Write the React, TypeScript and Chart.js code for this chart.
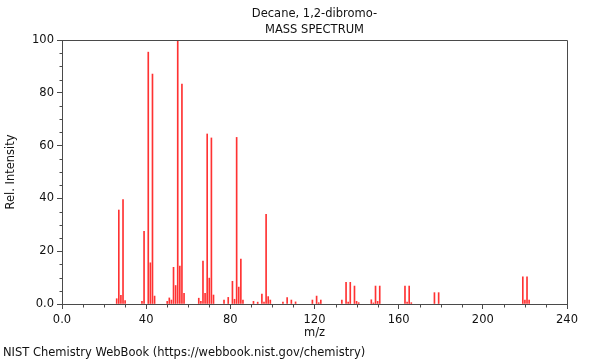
import { useEffect, useRef } from 'react';
import { Chart, registerables } from 'chart.js';

Chart.register(...registerables);

const mzValues = [
  26, 27, 28, 29, 30, 38, 39, 41, 42, 43, 44, 50, 51, 52, 53, 54, 55, 56, 57, 58,
  65, 66, 67, 68, 69, 70, 71, 72, 77, 79, 81, 82, 83, 84, 85, 86, 91, 93, 95, 96,
  97, 98, 99, 105, 107, 109, 111, 119, 121, 122, 123, 133, 135, 136, 137, 139, 140, 141,
  147, 148, 149, 150, 151, 163, 164, 165, 166, 177, 179, 219, 220, 221, 222,
];
const intensities = [
  2.0, 35.6, 3.3, 39.6, 1.3, 1.0, 27.5, 95.4, 15.6, 87.1, 3.0, 1.0, 2.3, 1.5, 13.9, 7.0, 100, 14.4, 83.3, 4.0,
  2.2, 1.0, 16.3, 4.0, 64.4, 9.8, 62.9, 3.4, 1.5, 2.5, 8.6, 1.8, 63.1, 6.4, 17.0, 1.5, 1.0, 0.7, 3.8, 0.7,
  34.0, 2.8, 1.5, 0.7, 2.4, 1.5, 0.8, 1.5, 3.0, 0.5, 1.5, 1.5, 8.2, 0.7, 8.2, 6.8, 1.0, 0.5,
  1.6, 0.4, 6.8, 1.0, 6.8, 6.8, 0.7, 6.8, 0.5, 4.3, 4.3, 10.3, 1.5, 10.3, 1.5,
];
const xMajorTicks = [0, 40, 80, 120, 160, 200, 240];
const xMinorStep = 10;
const yMajorTicks = [0, 20, 40, 60, 80, 100];
const yMinorStep = 5;
const titleLines = ['Decane, 1,2-dibromo-', 'MASS SPECTRUM'];
const footerText = 'NIST Chemistry WebBook (https://webbook.nist.gov/chemistry)';
const xAxisTitle = 'm/z';
const yAxisTitle = 'Rel. Intensity';

const FONT = "'DejaVu Sans', sans-serif";
const FONT_SIZE = 11.5;
const AXIS_COLOR = '#4a4a4a';
const TEXT_COLOR = '#111';

const fmt = (v: number) => (v === 0 ? '0.0' : String(v));

const decorPlugin = {
  id: 'decor',
  afterDraw(chart: any) {
    const { ctx, chartArea: a, scales } = chart;
    ctx.save();
    ctx.strokeStyle = AXIS_COLOR;
    ctx.lineWidth = 1;
    const L = Math.round(a.left) + 0.5;
    const R = Math.round(a.right) + 0.5;
    const T = Math.round(a.top) + 0.5;
    const B = Math.round(a.bottom) + 0.5;
    ctx.beginPath();
    ctx.moveTo(L, T);
    ctx.lineTo(R, T);
    ctx.lineTo(R, B);
    ctx.stroke();
    ctx.beginPath();
    const xs = scales.x;
    for (let v = xs.min; v <= xs.max; v += xMinorStep) {
      if (xMajorTicks.includes(v)) continue;
      const px = Math.round(xs.getPixelForValue(v)) + 0.5;
      ctx.moveTo(px, B);
      ctx.lineTo(px, B + 3);
    }
    const ys = scales.y;
    for (let v = ys.min; v <= ys.max; v += yMinorStep) {
      if (yMajorTicks.includes(v)) continue;
      const py = Math.round(ys.getPixelForValue(v)) + 0.5;
      ctx.moveTo(L, py);
      ctx.lineTo(L - 3, py);
    }
    ctx.stroke();
    ctx.fillStyle = TEXT_COLOR;
    ctx.font = `${FONT_SIZE}px ${FONT}`;
    ctx.textAlign = 'center';
    ctx.textBaseline = 'middle';
    const cx = (a.left + a.right) / 2;
    ctx.fillText(titleLines[0], cx, 14);
    ctx.fillText(titleLines[1], cx, 30);
    ctx.textAlign = 'left';
    ctx.fillText(footerText, 3, 353);
    ctx.restore();
  },
};

export default function App() {
  const ref = useRef<HTMLCanvasElement | null>(null);
  useEffect(() => {
    if (!ref.current) return;
    const chart = new Chart(ref.current, {
      type: 'bar',
      data: {
        datasets: [
          {
            data: mzValues.map((m, i) => ({ x: m, y: intensities[i] })),
            backgroundColor: 'rgb(255,50,50)',
            borderWidth: 0,
            barThickness: 1,
          } as any,
        ],
      },
      options: {
        animation: false,
        responsive: false,
        devicePixelRatio: 1,
        layout: { padding: { top: 40, right: 33, bottom: 20, left: 0 } },
        plugins: { legend: { display: false }, tooltip: { enabled: false }, title: { display: false } },
        scales: {
          x: {
            type: 'linear',
            min: 0,
            max: 240,
            offset: false,
            afterBuildTicks: (s: any) => {
              s.ticks = xMajorTicks.map((v) => ({ value: v }));
            },
            afterFit: (s: any) => {
              s.height = 36;
            },
            grid: { drawOnChartArea: false, offset: false, tickLength: 5, color: AXIS_COLOR, tickColor: AXIS_COLOR },
            border: { color: AXIS_COLOR },
            ticks: {
              autoSkip: false,
              maxRotation: 0,
              padding: 4,
              color: TEXT_COLOR,
              font: { family: FONT, size: FONT_SIZE },
              callback: (v: any) => fmt(Number(v)),
            },
            title: {
              display: true,
              text: xAxisTitle,
              color: TEXT_COLOR,
              font: { family: FONT, size: FONT_SIZE },
              padding: { top: 0, bottom: 0 },
            },
          },
          y: {
            type: 'linear',
            min: 0,
            max: 100,
            afterBuildTicks: (s: any) => {
              s.ticks = yMajorTicks.map((v) => ({ value: v }));
            },
            afterFit: (s: any) => {
              s.width = 62;
            },
            grid: { drawOnChartArea: false, tickLength: 5, color: AXIS_COLOR, tickColor: AXIS_COLOR },
            border: { color: AXIS_COLOR },
            ticks: {
              autoSkip: false,
              padding: 3,
              color: TEXT_COLOR,
              font: { family: FONT, size: FONT_SIZE },
              callback: (v: any) => fmt(Number(v)),
            },
            title: {
              display: true,
              text: yAxisTitle,
              color: TEXT_COLOR,
              font: { family: FONT, size: FONT_SIZE },
              padding: { top: 4, bottom: 0 },
            },
          },
        },
      },
      plugins: [decorPlugin],
    });
    return () => chart.destroy();
  }, []);
  return (
    <div style={{ position: 'fixed', left: 0, top: 0, width: 600, height: 360 }}>
      <canvas ref={ref} width={600} height={360} style={{ width: 600, height: 360 }} />
    </div>
  );
}
